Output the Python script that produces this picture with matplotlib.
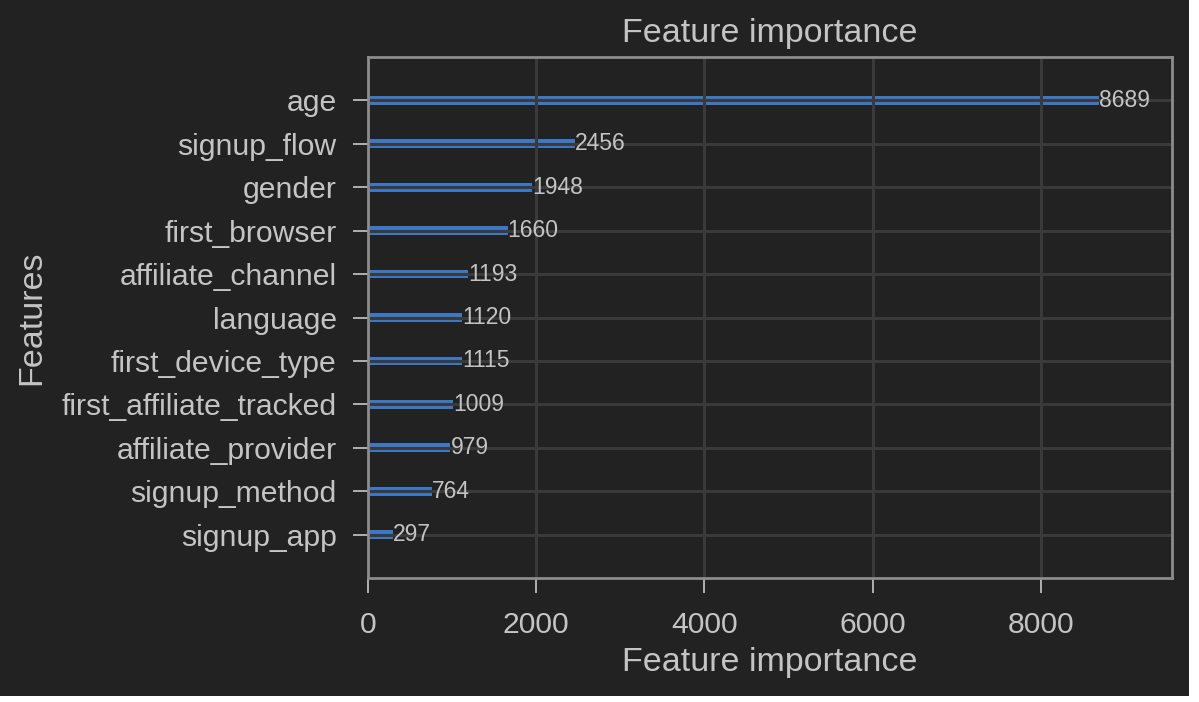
import matplotlib
matplotlib.use("Agg")
import matplotlib.pyplot as plt
from matplotlib.patches import Rectangle

features = ["signup_app", "signup_method", "affiliate_provider", "first_affiliate_tracked",
            "first_device_type", "language", "affiliate_channel", "first_browser",
            "gender", "signup_flow", "age"]
importance = [297, 764, 979, 1009, 1115, 1120, 1193, 1660, 1948, 2456, 8689]

BG = "#222222"
TXT = "#c4c4c4"
SPINE = "#8c8c8c"
TICK = "#b0b0b0"
GRID = "#3a3a3a"
BAR = "#3b78c8"

plt.rcParams["font.family"] = ["Liberation Sans", "DejaVu Sans"]

fig = plt.figure(figsize=(11.99, 7.02), dpi=100, facecolor="white")
fig.patches.append(Rectangle((0, 1 - 696 / 702), 1189 / 1199, 696 / 702, transform=fig.transFigure,
                             facecolor=BG, edgecolor="none", zorder=-10))
ax = fig.add_axes([368 / 1199, 1 - 578 / 702, (1172 - 368) / 1199, (578 - 57) / 702])
ax.set_facecolor(BG)

ypos = list(range(len(features)))
ax.barh(ypos, importance, height=0.2, color=BAR, zorder=1)
for y, v in zip(ypos, importance):
    ax.text(v + 1, y, str(v), va="center", ha="left", color=TXT, fontsize=16.5, zorder=3)

ax.set_xlim(0, max(importance) * 1.1)
ax.set_ylim(-1, len(features))
ax.set_yticks(ypos)
ax.set_yticklabels(features)
ax.set_xticks([0, 2000, 4000, 6000, 8000])

ax.grid(True, color=GRID, linewidth=2.2, zorder=2)
ax.set_axisbelow(False)
for gl in ax.get_xgridlines() + ax.get_ygridlines():
    gl.set_zorder(2)

for s in ax.spines.values():
    s.set_color(SPINE)
    s.set_linewidth(2)
    s.set_zorder(4)
ax.tick_params(colors=TICK, labelcolor=TXT, labelsize=21.7, length=10.5, width=1.4)
ax.tick_params(axis="y", pad=12)
ax.tick_params(axis="x", pad=13)

ax.set_title("Feature importance", color=TXT, fontsize=24.5, pad=11)
ax.set_xlabel("Feature importance", color=TXT, fontsize=24.5, labelpad=6)
ax.set_ylabel("Features", color=TXT, fontsize=24.5, labelpad=10)

fig.savefig("out.png", dpi=100, facecolor=fig.get_facecolor())
